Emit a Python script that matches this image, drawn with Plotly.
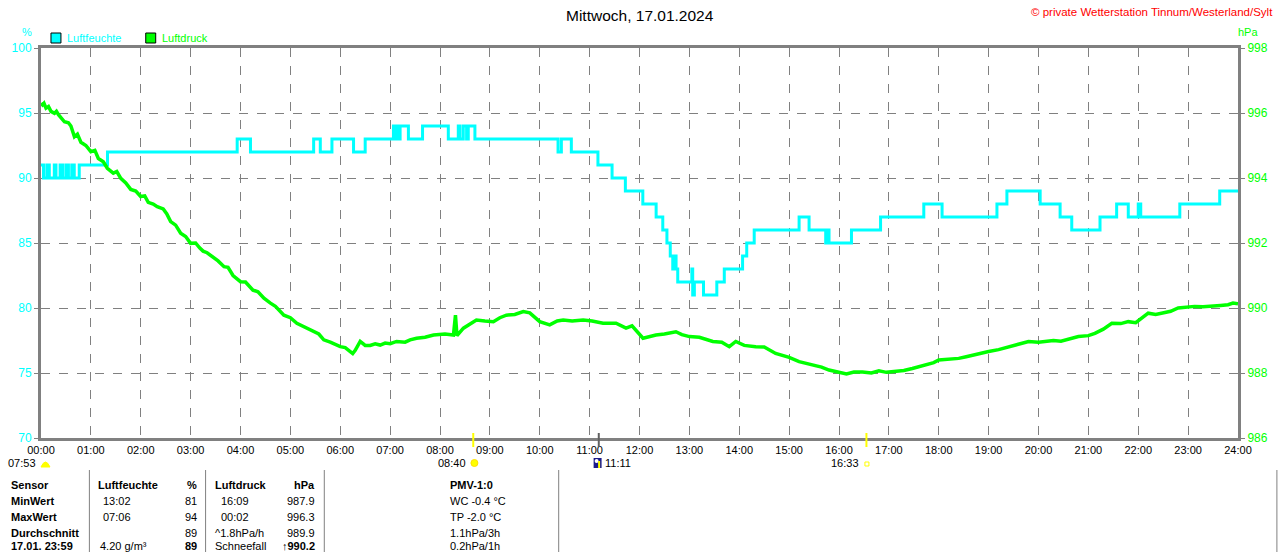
import plotly.graph_objects as go

# ---------------- data ----------------
hum_times = ["00:00", "00:03", "00:07", "00:10", "00:16", "00:18", "00:23", "00:26", "00:30", "00:33",
             "00:37", "00:40", "00:46", "01:20", "03:56", "04:12", "05:28", "05:36", "05:50", "06:16",
             "06:30", "07:04", "07:06", "07:08", "07:10", "07:12", "07:22", "07:39", "08:10", "08:22",
             "08:24", "08:28", "08:32", "08:34", "08:42", "10:22", "10:26", "10:38", "11:10", "11:27",
             "11:43", "12:04", "12:20", "12:28", "12:33", "12:37", "12:40", "12:42", "12:44", "12:46",
             "13:03", "13:04", "13:06", "13:17", "13:33", "13:42", "14:04", "14:09", "14:18", "15:12",
             "15:24", "15:44", "15:47", "15:48", "16:15", "16:50", "17:42", "18:04", "19:10", "19:22",
             "20:02", "20:26", "20:40", "21:14", "21:34", "21:48", "22:00", "22:03", "22:50", "23:38",
             "24:00"]
hum_values = [91, 90, 91, 90, 91, 90, 91, 90, 91, 90,
              91, 90, 91, 92, 93, 92, 93, 92, 93, 92,
              93, 94, 93, 94, 93, 94, 93, 94, 93, 94,
              93, 94, 93, 94, 93, 92, 93, 92, 91, 90,
              89, 88, 87, 86, 85, 84, 83, 84, 83, 82,
              83, 81, 82, 81, 82, 83, 84, 85, 86, 87,
              86, 85, 86, 85, 86, 87, 88, 87, 88, 89,
              88, 87, 86, 87, 88, 87, 88, 87, 88, 89,
              89]

pres_hours = [0.00, 0.03, 0.06, 0.10, 0.15, 0.20, 0.27, 0.31, 0.35, 0.41, 0.47, 0.55, 0.60, 0.67, 0.73, 0.80,
              0.90, 1.00, 1.08, 1.15, 1.25, 1.33, 1.45, 1.52, 1.60, 1.70, 1.80, 1.90, 2.00, 2.08, 2.15, 2.25, 2.33, 2.45,
              2.52, 2.60, 2.70, 2.80, 2.90, 3.00, 3.10, 3.18, 3.25, 3.33, 3.40, 3.55, 3.67, 3.75, 3.85, 4.00, 4.10,
              4.25, 4.35, 4.47, 4.60, 4.70, 4.87, 5.00, 5.13, 5.30, 5.47, 5.57, 5.67, 5.80, 6.00, 6.10, 6.20,
              6.25, 6.30, 6.40, 6.50, 6.60, 6.70, 6.80, 6.90, 7.00, 7.13, 7.30, 7.40, 7.53, 7.70, 7.87, 8.10,
              8.27, 8.31, 8.34, 8.47, 8.60, 8.73, 8.90, 9.07, 9.20, 9.33, 9.50, 9.67, 9.80,
              10.00, 10.20, 10.35, 10.47, 10.65, 10.87, 11.05, 11.27, 11.53, 11.73, 11.85, 12.07, 12.20, 12.33,
              12.50, 12.73, 12.85, 13.00, 13.20, 13.47, 13.65, 13.80, 13.93, 14.10, 14.33, 14.50, 14.73,
              14.85, 15.00, 15.20, 15.35, 15.47, 15.65, 15.80, 16.00, 16.15, 16.30, 16.47, 16.65, 16.80, 16.95, 17.13,
              17.30, 17.47, 17.60, 17.73, 17.90, 18.00, 18.20, 18.40, 18.55, 18.67, 18.85, 19.00, 19.20, 19.40,
              19.60, 19.80, 20.00, 20.13, 20.30, 20.45, 20.60, 20.80, 21.00, 21.13, 21.30,
              21.47, 21.65, 21.80, 21.95, 22.07, 22.20, 22.35, 22.50, 22.65, 22.80, 23.00, 23.13, 23.30, 23.47,
              23.65, 23.80, 23.90, 24.00]
pres_values = [996.30, 996.25, 996.30, 996.15, 996.20, 996.05, 995.99, 996.05, 995.95, 995.85, 995.73, 995.70, 995.60, 995.27, 995.35, 995.10,
               995.00, 994.81, 994.85, 994.60, 994.50, 994.30, 994.15, 994.20, 993.99, 993.85, 993.65, 993.60, 993.43, 993.45, 993.25, 993.20, 993.12, 993.05,
               992.90, 992.66, 992.55, 992.30, 992.20, 991.99, 992.00, 991.85, 991.75, 991.70, 991.63, 991.45, 991.27, 991.25, 991.00, 990.81, 990.80,
               990.55, 990.50, 990.30, 990.15, 990.05, 989.78, 989.70, 989.53, 989.40, 989.27, 989.20, 989.02, 988.95, 988.81, 988.78, 988.66,
               988.60, 988.70, 988.97, 988.85, 988.85, 988.90, 988.86, 988.92, 988.90, 988.97, 988.95, 989.02, 989.07, 989.10, 989.17, 989.20,
               989.17, 989.78, 989.15, 989.38, 989.50, 989.63, 989.60, 989.58, 989.70, 989.78, 989.80, 989.89, 989.85,
               989.58, 989.48, 989.60, 989.63, 989.60, 989.63, 989.60, 989.53, 989.53, 989.38, 989.45, 989.07, 989.12, 989.17,
               989.20, 989.27, 989.18, 989.12, 989.10, 988.97, 988.95, 988.81, 988.97, 988.85, 988.81, 988.80, 988.60,
               988.55, 988.48, 988.35, 988.30, 988.25, 988.18, 988.09, 988.02, 987.97, 988.03, 988.03, 988.00, 988.07, 988.02, 988.04,
               988.08, 988.14, 988.20, 988.25, 988.32, 988.40, 988.42, 988.45, 988.50, 988.55, 988.60, 988.66, 988.72, 988.81,
               988.88, 988.97, 988.95, 988.97, 989.00, 988.98, 989.05, 989.12, 989.15, 989.22, 989.35,
               989.53, 989.52, 989.58, 989.55, 989.68, 989.84, 989.80, 989.84, 989.90, 990.00, 990.03, 990.05, 990.04, 990.07,
               990.08, 990.10, 990.15, 990.13]

tick_hours = list(range(0, 25))
tick_labels = [f"{h:02d}:00" for h in tick_hours]

title_text = "Mittwoch, 17.01.2024"
copyright_text = "© private Wetterstation Tinnum/Westerland/Sylt"

event_times = ["07:53", "08:40", "11:11", "16:33"]

table_rows = [
    ["Sensor", "Luftfeuchte", "%", "Luftdruck", "hPa", "PMV-1:0"],
    ["MinWert", "13:02", "81", "16:09", "987.9", "WC -0.4 °C"],
    ["MaxWert", "07:06", "94", "00:02", "996.3", "TP -2.0 °C"],
    ["Durchschnitt", "", "89", "^1.8hPa/h", "989.9", "1.1hPa/3h"],
    ["17.01. 23:59", "4.20 g/m³", "89", "Schneefall", "↑990.2", "0.2hPa/1h"],
]

CYAN = "#00FFFF"
GREEN = "#00FF00"
GREY = "#808080"
FONT = "Liberation Sans"


def to_hours(s):
    h, m = s.split(":")
    return int(h) + int(m) / 60.0


hum_x = [to_hours(t) for t in hum_times]

# pixel helpers for decorations (plot area: x 40..1240, y 48..438)
W, H = 1280, 552
L, R, T, B = 40, 1240, 48, 438


def px(x):
    return (x - L) / (R - L)


def py(y):
    return (B - y) / (B - T)


fig = go.Figure()
fig.add_trace(go.Scatter(x=hum_x, y=hum_values, mode="lines", line=dict(color=CYAN, width=3, shape="hv"),
                         name="Luftfeuchte", yaxis="y", showlegend=False, hoverinfo="skip"))
fig.add_trace(go.Scatter(x=pres_hours, y=pres_values, mode="lines", line=dict(color=GREEN, width=3.5),
                         name="Luftdruck", yaxis="y2", showlegend=False, hoverinfo="skip"))

ann = []
shapes = []

ann.append(dict(text=title_text, x=0.5, xref="paper", y=py(15), yref="paper", showarrow=False,
                font=dict(family=FONT, size=15.5, color="black"), xanchor="center", yanchor="middle"))
ann.append(dict(text=copyright_text, x=px(1277), xref="paper", y=py(12), yref="paper", showarrow=False,
                font=dict(family=FONT, size=11.5, color="red"), xanchor="right", yanchor="middle"))
ann.append(dict(text="%", x=px(26), xref="paper", y=py(32), yref="paper", showarrow=False,
                font=dict(family=FONT, size=11, color=CYAN), xanchor="center", yanchor="middle"))
ann.append(dict(text="hPa", x=px(1250), xref="paper", y=py(32), yref="paper", showarrow=False,
                font=dict(family=FONT, size=11, color=GREEN), xanchor="center", yanchor="middle"))

# legend
for lx, col, name in [(50, CYAN, "Luftfeuchte"), (145, GREEN, "Luftdruck")]:
    shapes.append(dict(type="rect", xref="paper", yref="paper", x0=px(lx), x1=px(lx + 10),
                       y0=py(43), y1=py(33), fillcolor=col, line=dict(color="black", width=1)))
    ann.append(dict(text=name, x=px(lx + 14), xref="paper", y=py(38), yref="paper", showarrow=False,
                    font=dict(family=FONT, size=11, color=col), xanchor="left", yanchor="middle"))

# event markers below x-axis
ev = [to_hours(t) for t in event_times]
ann.append(dict(text=event_times[0], x=px(37), xref="paper", y=py(463), yref="paper", showarrow=False,
                font=dict(family=FONT, size=11, color="black"), xanchor="right", yanchor="middle"))
shapes.append(dict(type="path", xref="paper", yref="paper",
                   path=f"M {px(40)} {py(467)} Q {px(44.5)} {py(457)} {px(49)} {py(467)} Z",
                   fillcolor="#FFFF00", line=dict(color="#FFFF00", width=1)))
shapes.append(dict(type="line", xref="x", yref="paper", x0=ev[1], x1=ev[1], y0=py(447), y1=py(433),
                   line=dict(color="#FFFF00", width=2)))
ann.append(dict(text=event_times[1], x=px(468), xref="paper", y=py(463), yref="paper", showarrow=False,
                font=dict(family=FONT, size=11, color="black"), xanchor="right", yanchor="middle"))
shapes.append(dict(type="circle", xref="paper", yref="paper", x0=px(471), x1=px(478), y0=py(466.5), y1=py(459.5),
                   fillcolor="#FFFF00", line=dict(color="#FFE000", width=1)))
shapes.append(dict(type="line", xref="x", yref="paper", x0=ev[2], x1=ev[2], y0=py(447), y1=py(433),
                   line=dict(color="#606060", width=2)))
shapes.append(dict(type="rect", xref="paper", yref="paper", x0=px(594), x1=px(602), y0=py(468), y1=py(458),
                   fillcolor="#1C1C8C", line=dict(width=0)))
shapes.append(dict(type="circle", xref="paper", yref="paper", x0=px(595), x1=px(599), y0=py(463), y1=py(459),
                   fillcolor="white", line=dict(width=0)))
shapes.append(dict(type="line", xref="paper", yref="paper", x0=px(599.5), x1=px(599.5), y0=py(468), y1=py(461),
                   line=dict(color="#FFFF00", width=2)))
ann.append(dict(text=event_times[2], x=px(603), xref="paper", y=py(463), yref="paper", showarrow=False,
                font=dict(family=FONT, size=11, color="black"), xanchor="left", yanchor="middle"))
shapes.append(dict(type="line", xref="x", yref="paper", x0=ev[3], x1=ev[3], y0=py(447), y1=py(433),
                   line=dict(color="#FFFF00", width=2)))
ann.append(dict(text=event_times[3], x=px(862), xref="paper", y=py(463), yref="paper", showarrow=False,
                font=dict(family=FONT, size=11, color="black"), xanchor="right", yanchor="middle"))
shapes.append(dict(type="rect", xref="paper", yref="paper", x0=px(866), x1=px(870), y0=py(466), y1=py(462),
                   fillcolor="white", line=dict(color="#FFFF00", width=1)))

# table separators
for sx in [88.5, 205, 324, 559, 1279]:
    shapes.append(dict(type="line", xref="paper", yref="paper", x0=px(sx), x1=px(sx), y0=py(470), y1=py(552),
                       line=dict(color=GREY, width=1)))

row_y = [485, 501, 517, 533, 546]
for ri, row in enumerate(table_rows):
    yy = py(row_y[ri])
    header = ri == 0
    cells = [
        (row[0], 8, "left", True),
        (row[1], 95 if header else (100 if ri < 4 else 97), "left", header),
        (row[2], 198, "right", header or ri == 4),
        (row[3], 212 if (header or ri >= 3) else 218, "left", header),
        (row[4], 317, "right", header or ri == 4),
        (row[5], 448, "left", header),
    ]
    for txt, xx, anc, bold in cells:
        if not txt:
            continue
        t = f"<b>{txt}</b>" if bold else txt
        ann.append(dict(text=t, x=px(xx), xref="paper", y=yy, yref="paper", showarrow=False,
                        font=dict(family=FONT, size=11, color="black"), xanchor=anc, yanchor="middle"))

fig.update_layout(
    width=W, height=H,
    margin=dict(l=L, r=W - R, t=T, b=H - B, pad=0),
    paper_bgcolor="white", plot_bgcolor="white",
    showlegend=False,
    hovermode=False,
    xaxis=dict(range=[0, 24], tickmode="array", tickvals=tick_hours, ticktext=tick_labels,
               showgrid=True, gridcolor=GREY, griddash="dash", gridwidth=1,
               showline=True, linecolor=GREY, linewidth=3, mirror=True, ticks="",
               tickfont=dict(family=FONT, size=11, color="black"), zeroline=False, fixedrange=True),
    yaxis=dict(range=[70, 100], tickmode="linear", tick0=70, dtick=5,
               showgrid=True, gridcolor=GREY, griddash="dash", gridwidth=1,
               showline=True, linecolor=GREY, linewidth=3, ticks="outside", ticklen=4, tickcolor=GREY,
               tickfont=dict(family=FONT, size=12, color=CYAN), zeroline=False),
    yaxis2=dict(range=[986, 998], tickmode="linear", tick0=986, dtick=2, overlaying="y", side="right",
                showgrid=False, showline=True, linecolor=GREY, linewidth=3, ticks="outside", ticklen=4,
                tickcolor=GREY, tickfont=dict(family=FONT, size=12, color=GREEN), zeroline=False),
    annotations=ann,
    shapes=shapes,
)

fig.write_html("out.html", config={"displayModeBar": False},
               post_script="document.body.style.margin='0';document.body.style.overflow='hidden';")
